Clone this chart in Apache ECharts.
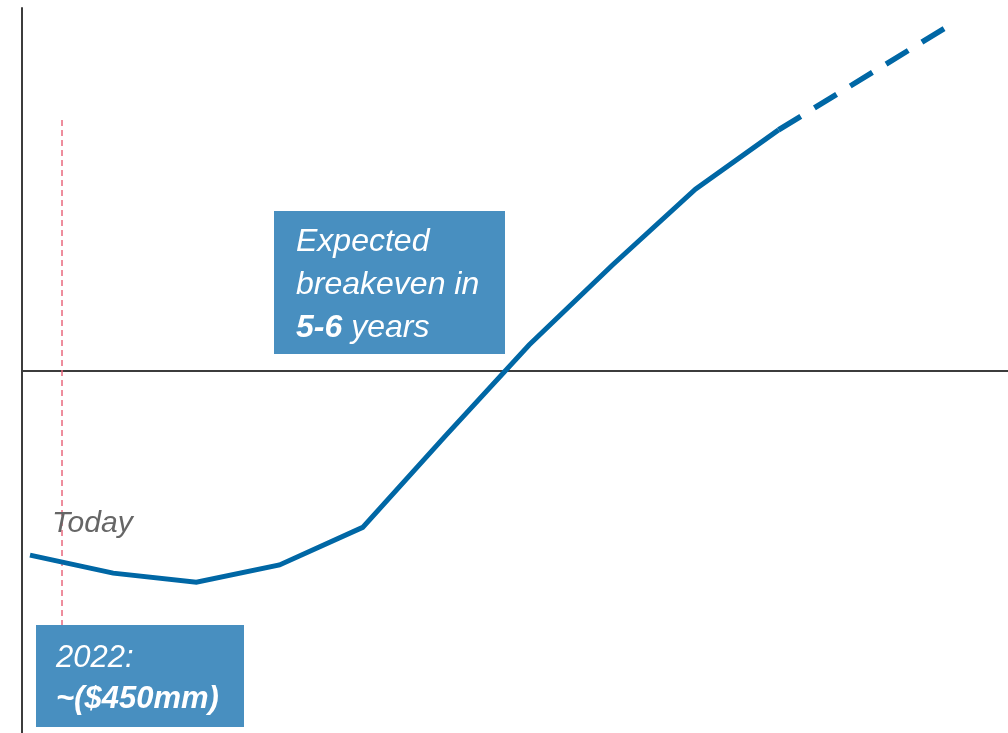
<!DOCTYPE html>
<html>
<head>
<meta charset="utf-8">
<script src="https://cdn.jsdelivr.net/npm/echarts@6/dist/echarts.min.js"></script>
<style>html,body{margin:0;padding:0;background:#fff}#c{width:1008px;height:733px}</style>
</head>
<body>
<div id="c"></div>
<script>
// Data ($mm, by year)
const years = [2022, 2023, 2024, 2025, 2026, 2027, 2028, 2029, 2030, 2031];
const values = [-450, -494, -516, -474, -382, -157, 64, 259, 445, 590];
const projYears = [2031, 2033];
const projValues = [590, 839];
const todayX = [2022.385, 2022.385];
const todayY = [614, -621];
const boxText1 = ['Expected', 'breakeven in', '5-6', ' years'];
const boxText2 = ['2022:', '~($450mm)'];
const todayLabel = 'Today';

const chart = echarts.init(document.getElementById('c'));
const FONT = '"Liberation Sans", Arial, sans-serif';
const BOX = '#488fc0';
const LINE = '#0067a5';

chart.setOption({
  animation: false,
  grid: { left: 22, right: 0, top: 8, bottom: 0 },
  xAxis: {
    type: 'value', min: 2021.904, max: 2033.758,
    axisLine: { onZero: true, lineStyle: { color: '#3c3c3c', width: 2 } },
    axisTick: { show: false }, axisLabel: { show: false }, splitLine: { show: false }
  },
  yAxis: {
    type: 'value', min: -885, max: 888,
    axisLine: { show: true, lineStyle: { color: '#3c3c3c', width: 2 } },
    axisTick: { show: false }, axisLabel: { show: false }, splitLine: { show: false }
  },
  series: [
    {
      type: 'line', symbol: 'none', z: 1,
      data: todayX.map((x, i) => [x, todayY[i]]),
      lineStyle: { color: '#e8677d', width: 1.5, type: [6, 4] }
    },
    {
      type: 'line', symbol: 'none', z: 3,
      data: years.map((y, i) => [y, values[i]]),
      lineStyle: { color: LINE, width: 5, cap: 'butt', join: 'miter' }
    },
    {
      type: 'line', symbol: 'none', z: 3,
      data: projYears.map((y, i) => [y, projValues[i]]),
      lineStyle: { color: LINE, width: 5.5, type: [26, 16] }
    }
  ],
  graphic: [
    { type: 'rect', shape: { x: 274, y: 211, width: 231, height: 143 }, style: { fill: BOX }, z: 10 },
    { type: 'text', x: 296, y: 242, z: 11, style: { text: boxText1[0], fill: '#fff', font: 'italic 32px ' + FONT, verticalAlign: 'middle' } },
    { type: 'text', x: 296, y: 285, z: 11, style: { text: boxText1[1], fill: '#fff', font: 'italic 32px ' + FONT, verticalAlign: 'middle' } },
    { type: 'text', x: 296, y: 328, z: 11, style: {
        text: '{b|' + boxText1[2] + '}{i|' + boxText1[3] + '}', verticalAlign: 'middle',
        rich: {
          b: { fill: '#fff', fontStyle: 'italic', fontWeight: 'bold', fontSize: 32, fontFamily: FONT },
          i: { fill: '#fff', fontStyle: 'italic', fontSize: 32, fontFamily: FONT }
        } } },
    { type: 'rect', shape: { x: 36, y: 625, width: 208, height: 102 }, style: { fill: BOX }, z: 10 },
    { type: 'text', x: 56, y: 658, z: 11, style: { text: boxText2[0], fill: '#fff', font: 'italic 31px ' + FONT, verticalAlign: 'middle' } },
    { type: 'text', x: 56, y: 699, z: 11, style: { text: boxText2[1], fill: '#fff', font: 'italic bold 31px ' + FONT, verticalAlign: 'middle' } },
    { type: 'text', x: 52, y: 524, z: 11, style: { text: todayLabel, fill: '#666666', font: 'italic 30px ' + FONT, verticalAlign: 'middle' } }
  ]
});
</script>
</body>
</html>
